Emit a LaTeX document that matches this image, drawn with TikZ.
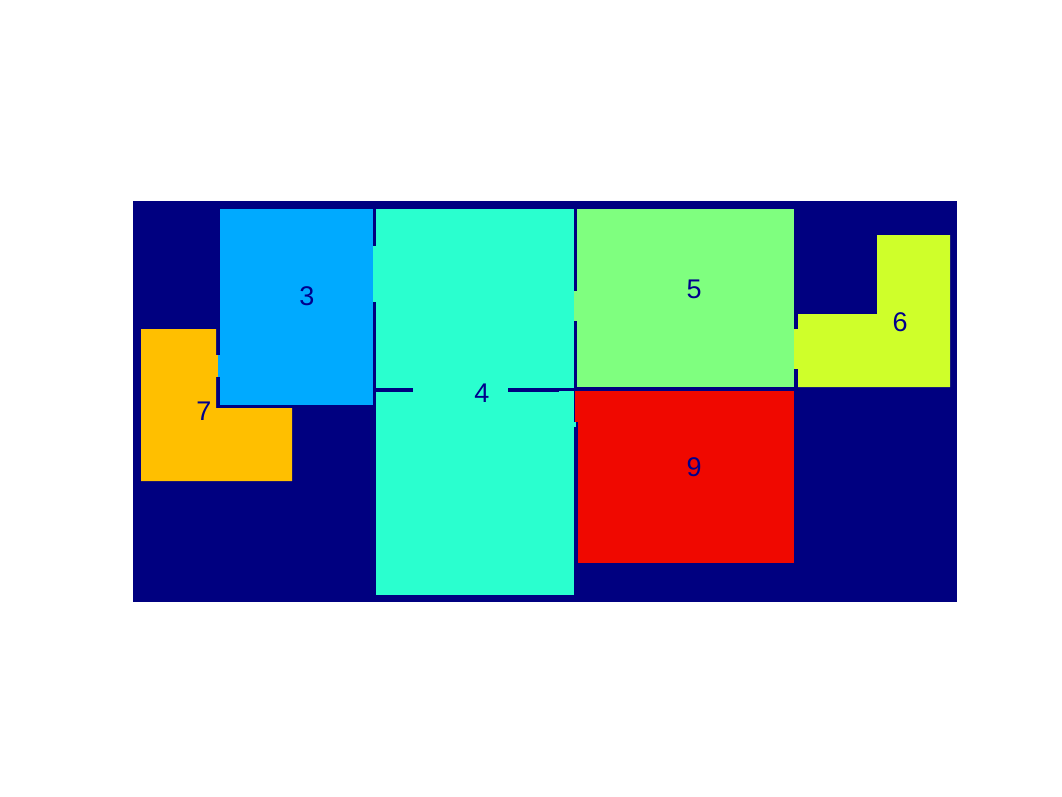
\documentclass[tikz,border=0pt]{standalone}
\usepackage{fontspec}
\setmainfont{Liberation Sans}
\definecolor{navyb}{RGB}{0,0,128}
\definecolor{rthree}{RGB}{0,170,255}
\definecolor{rfour}{RGB}{42,255,207}
\definecolor{rfive}{RGB}{127,255,127}
\definecolor{rsix}{RGB}{207,255,42}
\definecolor{rseven}{RGB}{255,191,0}
\definecolor{rnine}{RGB}{240,8,0}
\definecolor{labc}{RGB}{0,0,140}
\tikzset{
  roomlabel/.style={text=labc,font=\fontsize{27}{27}\selectfont,inner sep=0pt,anchor=center},
  wallseg/.style={fill=navyb}
}
\begin{document}
\begin{tikzpicture}[x=1pt,y=-1pt]
\useasboundingbox (0,0) rectangle (1062,796);
\fill[white] (0,0) rectangle (1062,796);
% floor / background
\fill[navyb] (133,201) rectangle (957,602);
% room 7
\fill[rseven] (141,329) -- (216,329) -- (216,408) -- (292,408) -- (292,481) -- (141,481) -- cycle;
\fill[rseven] (216,355) rectangle (219,377);
% room 3
\fill[rthree] (220,209) rectangle (373,405);
\fill[rthree] (218,355) rectangle (220,377);
\fill[rfour] (373,246) rectangle (376,302);
% room 4
\fill[rfour] (376,209) rectangle (574,595);
\fill[wallseg] (376,388) rectangle (413,392);
\fill[wallseg] (508,388) rectangle (559,392);
\fill[wallseg] (559,388) rectangle (574,391);
% room 5
\fill[rfive] (574,291) rectangle (577,321);
\fill[rfive] (577,209) rectangle (794,387);
% room 6
\fill[rsix] (794,329) rectangle (798,369);
\fill[rsix] (877,235) -- (950,235) -- (950,387) -- (798,387) -- (798,314) -- (877,314) -- cycle;
% room 9
\fill[rnine] (578,391) rectangle (794,563);
\fill[rnine] (575,391) rectangle (578,422);
\fill[rfour] (574,422) rectangle (576,427);
% labels
\node[roomlabel] (l3) at (307,296) {3};
\node[roomlabel] (l4) at (482,393) {4};
\node[roomlabel] (l5) at (694,289) {5};
\node[roomlabel] (l6) at (900,322) {6};
\node[roomlabel] (l7) at (204,411) {7};
\node[roomlabel] (l9) at (694,467) {9};
\end{tikzpicture}
\end{document}
